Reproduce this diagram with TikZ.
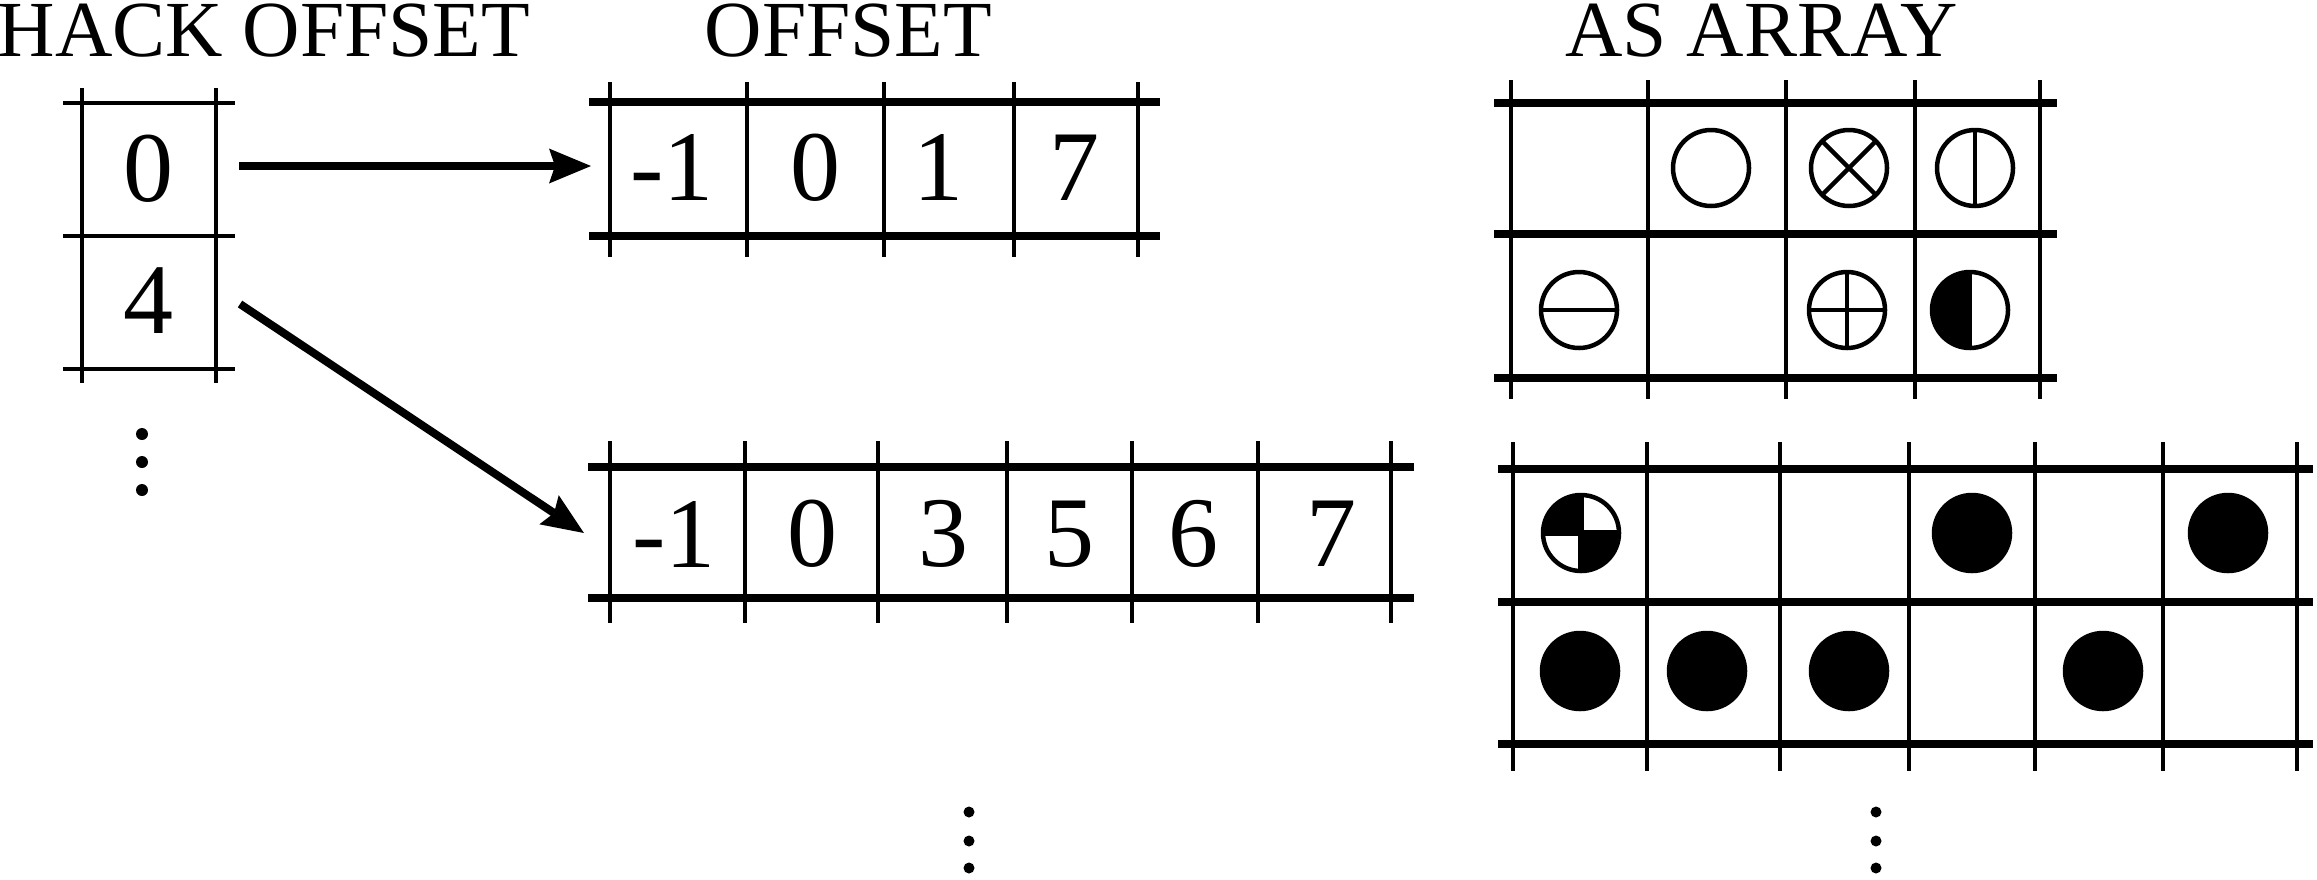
\documentclass[tikz,border=0pt]{standalone}
\usepackage{fontspec}
\setmainfont{Liberation Serif}
\usetikzlibrary{arrows.meta}
\begin{document}
\begin{tikzpicture}[x=1pt,y=-1pt,
  thinline/.style={line width=3.8pt},
  thickline/.style={line width=8.5pt},
  sym/.style={line width=4.5pt},
  quarter/.style={line width=6pt},
  title/.style={font=\fontsize{79.5}{80}\selectfont, inner sep=0pt, anchor=base},
  digit/.style={font=\fontsize{100}{100}\selectfont, inner sep=0pt},
  arr/.style={line width=8pt, -{Stealth[length=42pt,width=35pt,inset=6pt,line width=0pt]}},
  vdot/.style={fill=black}]
\useasboundingbox (0,0) rectangle (2317,879);

% titles
\node[title] (t1) at (264,56) {HACK OFFSET};
\node[title] (t2) at (848.5,56) {OFFSET};
\node[title] (t3) at (1761.5,56) {AS ARRAY};

% HACK OFFSET table
\foreach \x in {82,216} \draw[thinline] (\x,88) -- (\x,383);
\foreach \y in {103,236,369} \draw[thinline] (63,\y) -- (235,\y);
\node[digit] (h0) at (148,169) {0};
\node[digit] (h1) at (148,301) {4};
\foreach \y in {434,462,490} \fill[vdot] (142,\y) circle[radius=6pt];

% OFFSET table 1
\foreach \x in {610,747,884,1014,1138} \draw[thinline] (\x,82) -- (\x,257);
\foreach \y in {102,236} \draw[thickline] (589,\y) -- (1160,\y);
\node[digit] (o1a) at (672,167.5) {-1};
\node[digit] (o1b) at (815,167.5) {0};
\node[digit] (o1c) at (938,167.5) {1};
\node[digit] (o1d) at (1074,167.5) {7};

% OFFSET table 2
\foreach \x in {610,745,878,1007,1132,1258,1391} \draw[thinline] (\x,441) -- (\x,623);
\foreach \y in {467,598} \draw[thickline] (588,\y) -- (1414,\y);
\node[digit] (o2a) at (674,534) {-1};
\node[digit] (o2b) at (812,534) {0};
\node[digit] (o2c) at (943,534) {3};
\node[digit] (o2d) at (1069,534) {5};
\node[digit] (o2e) at (1193,534) {6};
\node[digit] (o2f) at (1331,534) {7};
\foreach \y in {812,841,868} \fill[vdot] (969,\y) circle[radius=5.5pt];

% arrows
\coordinate (a1s) at (239,166);
\coordinate (a1e) at (591,166);
\coordinate (a2s) at (240,304);
\coordinate (a2e) at (584,533);
\draw[arr] (a1s) -- (a1e);
\draw[arr] (a2s) -- (a2e);

% AS ARRAY table 1
\foreach \x in {1511,1648,1786,1915,2040} \draw[thinline] (\x,80) -- (\x,399);
\foreach \y in {103,234,378} \draw[thickline] (1494,\y) -- (2057,\y);
% row 1
\coordinate (s12) at (1711,168);
\coordinate (s13) at (1849,168);
\coordinate (s14) at (1975,168);
\draw[sym] (s12) circle[radius=38pt];
\draw[sym] (s13) circle[radius=38pt];
\draw[sym] (s13) ++(45:38pt) -- ++(225:76pt);
\draw[sym] (s13) ++(135:38pt) -- ++(-45:76pt);
\draw[sym] (s14) circle[radius=38pt];
\draw[sym] (s14) ++(90:38pt) -- ++(-90:76pt);
% row 2
\coordinate (s21) at (1579,310);
\coordinate (s23) at (1847,310);
\coordinate (s24) at (1970,310);
\draw[sym] (s21) circle[radius=38pt];
\draw[sym] (s21) ++(180:38pt) -- ++(0:76pt);
\draw[sym] (s23) circle[radius=38pt];
\draw[sym] (s23) ++(180:38pt) -- ++(0:76pt);
\draw[sym] (s23) ++(90:38pt) -- ++(-90:76pt);
\fill (s24) ++(90:38pt) arc[start angle=90,end angle=270,radius=38pt] -- cycle;
\draw[sym] (s24) circle[radius=38pt];
\draw[sym] (s24) ++(90:38pt) -- ++(-90:76pt);

% AS ARRAY table 2
\foreach \x in {1513,1647,1780,1909,2035,2163,2297} \draw[thinline] (\x,442) -- (\x,771);
\foreach \y in {469,602,744} \draw[thickline] (1498,\y) -- (2313,\y);
\coordinate (q11) at (1581,533);
\fill (q11) -- ++(180:38pt) arc[start angle=180,end angle=90,radius=38pt] -- cycle;
\fill (q11) -- ++(0:38pt) arc[start angle=0,end angle=-90,radius=38pt] -- cycle;
\draw[sym] (q11) circle[radius=38pt];
\draw[quarter] (q11) ++(180:38pt) -- ++(0:76pt);
\draw[quarter] (q11) ++(90:38pt) -- ++(-90:76pt);
\foreach \p in {(1972,533),(2228,533),(1580,671),(1707,671),(1849,671),(2103,671)}
  \filldraw[sym] \p circle[radius=38pt];
\foreach \y in {812,841,868} \fill[vdot] (1876,\y) circle[radius=5.5pt];
\end{tikzpicture}
\end{document}
